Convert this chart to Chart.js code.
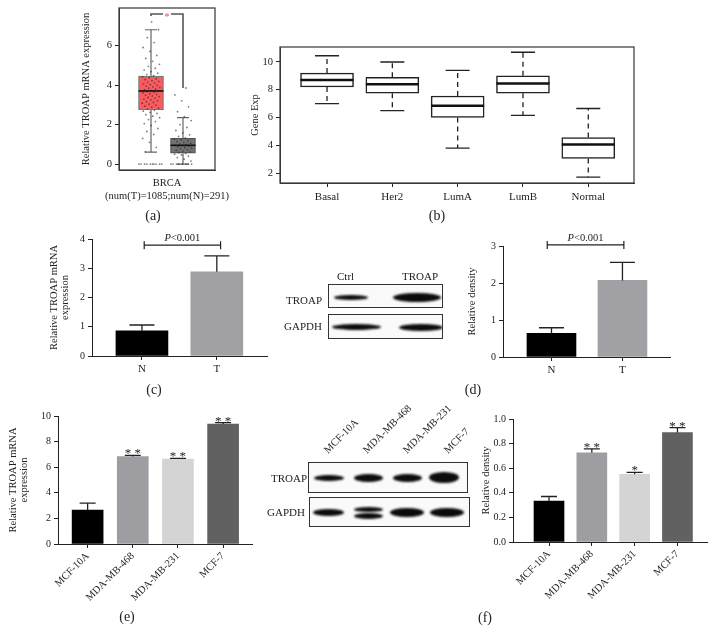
<!DOCTYPE html>
<html>
<head>
<meta charset="utf-8">
<script src="https://cdn.jsdelivr.net/npm/chart.js@4.4.1/dist/chart.umd.min.js"></script>
<style>
  body { margin: 0; background: #fff; }
  #fig { position: relative; width: 715px; height: 644px; overflow: hidden; font-family: 'Liberation Serif', 'Times New Roman', serif; color: #222; }
  #fig canvas { position: absolute; left: 0; top: 0; }
  .plab { position: absolute; font-size: 14px; transform: translate(-50%, -50%); white-space: nowrap; }
  .txt { position: absolute; font-size: 11px; white-space: nowrap; line-height: 12px; }
  .blot { position: absolute; border: 1px solid #333; background: #fafafa; overflow: hidden; box-sizing: border-box; }
  .band { position: absolute; background: #0c0c0c; border-radius: 50%; filter: blur(1.1px); }
  .lane { position: absolute; font-size: 10.5px; line-height: 12px; transform-origin: 0 100%; transform: rotate(-45deg); white-space: nowrap; }
</style>
</head>
<body>
<div id="fig">
  <canvas id="chartA" width="715" height="644"></canvas>
  <canvas id="chartB" width="715" height="644"></canvas>
  <canvas id="chartC" width="715" height="644"></canvas>
  <canvas id="chartD" width="715" height="644"></canvas>
  <canvas id="chartE" width="715" height="644"></canvas>
  <canvas id="chartF" width="715" height="644"></canvas>

  <!-- western blot (d) -->
  <div class="txt" style="left:337px;top:270px;">Ctrl</div>
  <div class="txt" style="left:402px;top:270px;">TROAP</div>
  <div class="txt" style="left:286px;top:294px;">TROAP</div>
  <div class="txt" style="left:284px;top:320px;">GAPDH</div>
  <div class="blot" style="left:328px;top:284px;width:115px;height:24px;">
    <div class="band" style="left:5px;top:10px;width:34px;height:5px;"></div>
    <div class="band" style="left:64px;top:8px;width:48px;height:9px;"></div>
  </div>
  <div class="blot" style="left:328px;top:314px;width:115px;height:25px;">
    <div class="band" style="left:3px;top:9px;width:49px;height:6px;"></div>
    <div class="band" style="left:70px;top:9px;width:44px;height:7px;"></div>
  </div>

  <!-- western blot (f) -->
  <div class="lane" style="left:330px;top:444px;">MCF-10A</div>
  <div class="lane" style="left:369px;top:444px;">MDA-MB-468</div>
  <div class="lane" style="left:409px;top:444px;">MDA-MB-231</div>
  <div class="lane" style="left:450px;top:444px;">MCF-7</div>
  <div class="txt" style="left:271px;top:472px;">TROAP</div>
  <div class="txt" style="left:267px;top:506px;">GAPDH</div>
  <div class="blot" style="left:308px;top:462px;width:160px;height:31px;">
    <div class="band" style="left:5px;top:12px;width:30px;height:6px;"></div>
    <div class="band" style="left:45px;top:11px;width:29px;height:8px;"></div>
    <div class="band" style="left:84px;top:11px;width:29px;height:8px;"></div>
    <div class="band" style="left:120px;top:9px;width:30px;height:11px;"></div>
  </div>
  <div class="blot" style="left:309px;top:497px;width:161px;height:30px;">
    <div class="band" style="left:3px;top:11px;width:31px;height:7px;"></div>
    <div class="band" style="left:44px;top:9px;width:29px;height:5px;"></div>
    <div class="band" style="left:44px;top:15px;width:29px;height:6px;"></div>
    <div class="band" style="left:80px;top:10px;width:34px;height:9px;"></div>
    <div class="band" style="left:120px;top:10px;width:34px;height:9px;"></div>
  </div>

  <div class="plab" style="left:153px;top:216px;">(a)</div>
  <div class="plab" style="left:437px;top:216px;">(b)</div>
  <div class="plab" style="left:154px;top:390px;">(c)</div>
  <div class="plab" style="left:473px;top:390px;">(d)</div>
  <div class="plab" style="left:127px;top:617px;">(e)</div>
  <div class="plab" style="left:485px;top:618px;">(f)</div>
</div>

<script>
"use strict";

// (a) TCGA BRCA, tumour vs normal
const tcgaGroups = ['T', 'N'];
const tcgaLow = [0.6, 0.0];
const tcgaQ1 = [2.75, 0.55];
const tcgaMedian = [3.7, 0.95];
const tcgaQ3 = [4.45, 1.3];
const tcgaHigh = [6.8, 2.35];
const tcgaTumorPts = [0, 0, 0, 0, 0, 0, 0, 0, 0, 0, 0.62, 0.85, 1.1, 1.3, 1.5, 1.65, 1.8, 1.95, 2.05, 2.15, 2.25, 2.35,
  2.42, 2.5, 2.56, 2.62, 2.68, 2.72, 2.78, 2.83, 2.88, 2.93, 2.98, 3.03, 3.08, 3.12, 3.16, 3.2, 3.25, 3.29, 3.33, 3.37,
  3.41, 3.45, 3.49, 3.53, 3.56, 3.6, 3.64, 3.67, 3.7, 3.73, 3.77, 3.8, 3.84, 3.87, 3.91, 3.95, 3.98, 4.02, 4.06, 4.1,
  4.14, 4.18, 4.22, 4.27, 4.32, 4.37, 4.42, 4.47, 4.53, 4.6, 4.68, 4.76, 4.85, 4.95, 5.05, 5.2, 5.35, 5.5, 5.7, 5.9,
  6.15, 6.4, 6.8, 7.2];
const tcgaNormalPts = [0, 0, 0, 0, 0, 0, 0, 0, 0.15, 0.25, 0.33, 0.4, 0.46, 0.5, 0.54, 0.58, 0.62, 0.66, 0.7, 0.73,
  0.77, 0.8, 0.84, 0.87, 0.9, 0.93, 0.96, 0.99, 1.02, 1.06, 1.1, 1.14, 1.18, 1.22, 1.27, 1.33, 1.4, 1.48, 1.58, 1.7,
  1.85, 2.0, 2.2, 2.4, 2.65, 2.9, 3.2, 3.5, 3.85];
const tcgaTicks = [0, 2, 4, 6];

// (b) PAM50 subtypes
const subtypes = ['Basal', 'Her2', 'LumA', 'LumB', 'Normal'];
const subLow = [7.0, 6.5, 3.8, 6.15, 1.7];
const subQ1 = [8.2, 7.75, 6.0, 7.75, 3.05];
const subMedian = [8.7, 8.4, 6.85, 8.45, 4.05];
const subQ3 = [9.2, 8.9, 7.55, 9.0, 4.55];
const subHigh = [10.45, 10.0, 9.4, 10.7, 6.65];
const subTicks = [2, 4, 6, 8, 10];

// (c) tissue mRNA, (d) tissue protein
const tissues = ['N', 'T'];
const tissueMrna = [0.86, 2.88];
const tissueMrnaSd = [0.2, 0.54];
const tissueDensity = [0.64, 2.07];
const tissueDensitySd = [0.15, 0.49];
const mrnaTicksC = [0, 1, 2, 3, 4];
const densityTicksD = [0, 1, 2, 3];

// (e) cell line mRNA, (f) cell line protein
const cellLines = ['MCF-10A', 'MDA-MB-468', 'MDA-MB-231', 'MCF-7'];
const cellMrna = [2.65, 6.83, 6.64, 9.37];
const cellMrnaSd = [0.55, 0.1, 0.05, 0.12];
const cellMrnaStars = ['', '* *', '* *', '* *'];
const cellDensity = [0.333, 0.725, 0.55, 0.89];
const cellDensitySd = [0.037, 0.032, 0.016, 0.04];
const cellDensityStars = ['', '* *', '*', '* *'];
const mrnaTicksE = [0, 2, 4, 6, 8, 10];
const densityTicksF = [0, 0.2, 0.4, 0.6, 0.8, 1.0];

const SERIF = "'Liberation Serif', 'Times New Roman', serif";
const INK = '#222';
Chart.defaults.font.family = SERIF;
Chart.defaults.color = INK;

// build a chart whose plot area sits at a fixed spot on the page
function build(id, type, data, area, yW, xH, xScale, yScale, plugins) {
  xScale.afterFit = function (s) { s.height = xH; s.paddingLeft = 0; s.paddingRight = 0; };
  yScale.afterFit = function (s) { s.width = yW; s.paddingTop = 0; s.paddingBottom = 0; };
  return new Chart(document.getElementById(id), {
    type: type,
    data: data,
    options: {
      responsive: false,
      animation: false,
      events: [],
      layout: { padding: { left: area.l - yW, top: area.t, right: 715 - area.r, bottom: 644 - area.b - xH } },
      plugins: { legend: { display: false }, tooltip: { enabled: false } },
      scales: { x: xScale, y: yScale }
    },
    plugins: plugins || []
  });
}

function yAxis(min, max, ticks, title, size, fmt) {
  return {
    type: 'linear', min: min, max: max,
    afterBuildTicks: function (s) { s.ticks = ticks.map(function (v) { return { value: v }; }); },
    grid: { display: true, drawOnChartArea: false, drawTicks: true, tickLength: 4, color: INK, lineWidth: 1 },
    border: { display: true, color: INK, width: 1 },
    ticks: { font: { size: size || 10 }, padding: 3, color: INK, callback: fmt || function (v) { return v; } },
    title: { display: !!title, text: title, font: { size: 10.5, lineHeight: 1.0 }, padding: 0, color: INK }
  };
}

function xAxis(min, max, labels, opts) {
  opts = opts || {};
  return {
    type: 'linear', min: min, max: max, offset: false,
    afterBuildTicks: function (s) { s.ticks = labels.map(function (l, i) { return { value: i + 1 }; }); },
    grid: { display: true, offset: false, drawOnChartArea: false, drawTicks: opts.drawTicks !== false, tickLength: 4, color: INK, lineWidth: 1 },
    border: { display: true, color: INK, width: 1 },
    ticks: {
      font: { size: opts.size || 11 }, padding: opts.padding || 3, color: INK, autoSkip: false,
      minRotation: opts.rot || 0, maxRotation: opts.rot || 0,
      callback: function (v, i) { return labels[i]; }
    }
  };
}

// frame round the plot area
const frame = {
  id: 'frame',
  afterDraw: function (chart) {
    const a = chart.chartArea, ctx = chart.ctx;
    ctx.save();
    ctx.strokeStyle = '#444';
    ctx.lineWidth = 1.3;
    ctx.strokeRect(a.left, a.top, a.right - a.left, a.bottom - a.top);
    ctx.restore();
  }
};

// whiskers and medians for box plots
function boxParts(low, median, high, style) {
  return {
    id: 'boxParts',
    beforeDatasetsDraw: function (chart) {
      const ctx = chart.ctx, y = chart.scales.y;
      const boxes = chart.getDatasetMeta(chart.data.datasets.length - 1).data;
      ctx.save();
      ctx.strokeStyle = style.whisker;
      ctx.lineWidth = style.whiskerWidth;
      boxes.forEach(function (bar, i) {
        const cx = bar.x;
        const top = Math.min(bar.y, bar.base), bottom = Math.max(bar.y, bar.base);
        const hi = y.getPixelForValue(high[i]), lo = y.getPixelForValue(low[i]);
        ctx.setLineDash(style.dash);
        ctx.beginPath();
        ctx.moveTo(cx, top); ctx.lineTo(cx, hi);
        ctx.moveTo(cx, bottom); ctx.lineTo(cx, lo);
        ctx.stroke();
        ctx.setLineDash([]);
        ctx.beginPath();
        ctx.moveTo(cx - style.cap, hi); ctx.lineTo(cx + style.cap, hi);
        ctx.moveTo(cx - style.cap, lo); ctx.lineTo(cx + style.cap, lo);
        ctx.stroke();
      });
      ctx.restore();
    },
    afterDatasetsDraw: function (chart) {
      const ctx = chart.ctx, y = chart.scales.y;
      const boxes = chart.getDatasetMeta(chart.data.datasets.length - 1).data;
      ctx.save();
      ctx.strokeStyle = '#111';
      ctx.lineWidth = style.medianWidth;
      boxes.forEach(function (bar, i) {
        const m = y.getPixelForValue(median[i]);
        ctx.beginPath();
        ctx.moveTo(bar.x - bar.width / 2, m); ctx.lineTo(bar.x + bar.width / 2, m);
        ctx.stroke();
      });
      ctx.restore();
    }
  };
}

function pText(ctx, cx, yy, size) {
  ctx.font = 'italic ' + size + 'px ' + SERIF;
  const wp = ctx.measureText('P').width;
  ctx.font = size + 'px ' + SERIF;
  const wr = ctx.measureText('<0.001').width;
  const x0 = cx - (wp + wr) / 2;
  ctx.textAlign = 'left';
  ctx.textBaseline = 'alphabetic';
  ctx.font = 'italic ' + size + 'px ' + SERIF;
  ctx.fillText('P', x0, yy);
  ctx.font = size + 'px ' + SERIF;
  ctx.fillText('<0.001', x0 + wp, yy);
}

// upper error bars, stars and the P bracket
function errorBars(sd, cap, stars, bracket) {
  return {
    id: 'errorBars',
    afterDatasetsDraw: function (chart) {
      const ctx = chart.ctx, y = chart.scales.y, x = chart.scales.x;
      const ds = chart.data.datasets[0];
      const bars = chart.getDatasetMeta(0).data;
      ctx.save();
      ctx.strokeStyle = INK;
      ctx.fillStyle = INK;
      ctx.lineWidth = 1.3;
      bars.forEach(function (bar, i) {
        const v = ds.data[i].y;
        const top = y.getPixelForValue(v + sd[i]);
        ctx.beginPath();
        ctx.moveTo(bar.x, bar.y); ctx.lineTo(bar.x, top);
        ctx.moveTo(bar.x - cap / 2, top); ctx.lineTo(bar.x + cap / 2, top);
        ctx.stroke();
        if (stars && stars[i]) {
          ctx.font = '13px ' + SERIF;
          ctx.textAlign = 'center';
          ctx.textBaseline = 'alphabetic';
          ctx.fillText(stars[i], bar.x, top + 2);
        }
      });
      if (bracket) {
        const by = y.getPixelForValue(bracket.level);
        const x1 = x.getPixelForValue(bracket.from), x2 = x.getPixelForValue(bracket.to);
        ctx.lineWidth = 1.2;
        ctx.beginPath();
        ctx.moveTo(x1, by); ctx.lineTo(x2, by);
        ctx.moveTo(x1, by - 4); ctx.lineTo(x1, by + 4);
        ctx.moveTo(x2, by - 4); ctx.lineTo(x2, by + 4);
        ctx.stroke();
        pText(ctx, (x1 + x2) / 2, by - 4, 10.5);
      }
      ctx.restore();
    }
  };
}

// significance mark for (a): bracket with a gap holding a red star
const tcgaStar = {
  id: 'tcgaStar',
  afterDatasetsDraw: function (chart) {
    const ctx = chart.ctx, x = chart.scales.x, y = chart.scales.y;
    const x1 = x.getPixelForValue(1), x2 = x.getPixelForValue(2);
    const mid = (x1 + x2) / 2;
    const top = y.getPixelForValue(7.6);
    ctx.save();
    ctx.strokeStyle = '#555';
    ctx.lineWidth = 1.6;
    ctx.beginPath();
    ctx.moveTo(x1, y.getPixelForValue(7.5)); ctx.lineTo(x1, top); ctx.lineTo(mid - 4, top);
    ctx.moveTo(mid + 4, top); ctx.lineTo(x2, top);
    ctx.lineTo(x2, y.getPixelForValue(tcgaHigh[1] + 1.5));
    ctx.stroke();
    ctx.fillStyle = '#e8505a';
    ctx.font = '10px ' + SERIF;
    ctx.textAlign = 'center';
    ctx.textBaseline = 'alphabetic';
    ctx.fillText('*', mid, top + 6);
    ctx.restore();
  }
};

function jitter(values, center) {
  return values.map(function (v, i) {
    const spread = v === 0 ? 0.76 : 0.56;
    const f = (i * 0.618034) % 1;
    return { x: center + (f - 0.5) * spread, y: v };
  });
}

// ---------- (a) ----------
build('chartA', 'bar', {
  datasets: [
    { type: 'scatter', data: jitter(tcgaTumorPts, 1), pointRadius: 0.9, pointBackgroundColor: 'rgba(40,40,40,0.6)', pointBorderWidth: 0 },
    { type: 'scatter', data: jitter(tcgaNormalPts, 2), pointRadius: 0.9, pointBackgroundColor: 'rgba(40,40,40,0.6)', pointBorderWidth: 0 },
    {
      type: 'bar',
      data: tcgaGroups.map(function (g, i) { return { x: i + 1, y: [tcgaQ1[i], tcgaQ3[i]] }; }),
      backgroundColor: ['#f95b5f', '#727272'],
      borderColor: ['#777', '#555'],
      borderWidth: 1.2, borderSkipped: false, barThickness: 25
    }
  ]
}, { l: 119, t: 8, r: 215, b: 170 }, 38, 40,
  (function () {
    const s = xAxis(0, 3, ['x'], { drawTicks: false, padding: 7, size: 10.5 });
    s.afterBuildTicks = function (sc) { sc.ticks = [{ value: 1.5 }]; };
    s.ticks.callback = function () { return ['BRCA', '(num(T)=1085;num(N)=291)']; };
    return s;
  })(),
  yAxis(-0.3, 7.9, tcgaTicks, 'Relative TROAP mRNA expression', 10.5),
  [boxParts(tcgaLow, tcgaMedian, tcgaHigh, { whisker: '#666', whiskerWidth: 1.2, dash: [], cap: 6, medianWidth: 1.6 }), tcgaStar, frame]);

// ---------- (b) ----------
build('chartB', 'bar', {
  datasets: [{
    data: subtypes.map(function (s, i) { return { x: i + 1, y: [subQ1[i], subQ3[i]] }; }),
    backgroundColor: '#fff', borderColor: '#222', borderWidth: 1.5, borderSkipped: false, barThickness: 53
  }]
}, { l: 280, t: 47, r: 634, b: 183 }, 30, 25,
  xAxis(0.28, 5.7, subtypes, { size: 11, padding: 4 }),
  yAxis(1.28, 11.08, subTicks, 'Gene Exp', 10.5),
  [boxParts(subLow, subMedian, subHigh, { whisker: '#222', whiskerWidth: 1.3, dash: [5, 4], cap: 12, medianWidth: 2.6 }), frame]);

// ---------- (c) ----------
build('chartC', 'bar', {
  datasets: [{
    data: tissues.map(function (t, i) { return { x: i + 1, y: tissueMrna[i] }; }),
    backgroundColor: ['#000', '#a1a1a5'], borderWidth: 0, barThickness: 52
  }]
}, { l: 92, t: 239, r: 267, b: 356 }, 43, 22,
  xAxis(0.333, 2.67, tissues, { size: 11 }),
  yAxis(0, 4, mrnaTicksC, ['Relative TROAP mRNA', 'expression'], 10),
  [errorBars(tissueMrnaSd, 25, null, { from: 1.03, to: 2.05, level: 3.79 })]);

// ---------- (d) ----------
build('chartD', 'bar', {
  datasets: [{
    data: tissues.map(function (t, i) { return { x: i + 1, y: tissueDensity[i] }; }),
    backgroundColor: ['#000', '#a1a1a5'], borderWidth: 0, barThickness: 49
  }]
}, { l: 503, t: 246, r: 670, b: 357 }, 36, 22,
  xAxis(0.317, 2.67, tissues, { size: 11 }),
  yAxis(0, 3, densityTicksD, 'Relative density', 10),
  [errorBars(tissueDensitySd, 25, null, { from: 0.94, to: 2.02, level: 3.03 })]);

// ---------- (e) ----------
build('chartE', 'bar', {
  datasets: [{
    data: cellLines.map(function (c, i) { return { x: i + 1, y: cellMrna[i] }; }),
    backgroundColor: ['#000', '#9e9ea2', '#d4d4d4', '#616161'], borderWidth: 0, barThickness: 31
  }]
}, { l: 58, t: 416, r: 252, b: 544 }, 50, 80,
  xAxis(0.344, 4.64, cellLines, { size: 10.5, rot: 45, padding: 2 }),
  yAxis(0, 10, mrnaTicksE, ['Relative TROAP mRNA', 'expression'], 10),
  [errorBars(cellMrnaSd, 16, cellMrnaStars, null)]);

// ---------- (f) ----------
build('chartF', 'bar', {
  datasets: [{
    data: cellLines.map(function (c, i) { return { x: i + 1, y: cellDensity[i] }; }),
    backgroundColor: ['#000', '#9e9ea2', '#d4d4d4', '#616161'], borderWidth: 0, barThickness: 30
  }]
}, { l: 513, t: 419, r: 707, b: 542 }, 32, 80,
  xAxis(0.159, 4.69, cellLines, { size: 10.5, rot: 45, padding: 2 }),
  yAxis(0, 1, densityTicksF, 'Relative density', 10, function (v) { return v.toFixed(1); }),
  [errorBars(cellDensitySd, 16, cellDensityStars, null)]);
</script>
</body>
</html>
